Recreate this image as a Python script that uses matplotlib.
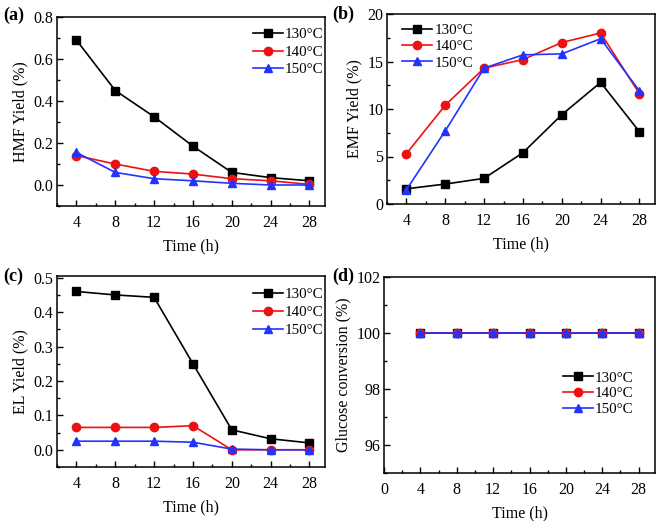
import matplotlib
matplotlib.use("Agg")
import matplotlib.pyplot as plt
from matplotlib.ticker import MultipleLocator

plt.rcParams['font.family'] = ['Liberation Serif', 'DejaVu Serif']

time = [4, 8, 12, 16, 20, 24, 28]
labels = ['130°C', '140°C', '150°C']

hmf_130 = [0.69, 0.45, 0.325, 0.185, 0.06, 0.035, 0.02]
hmf_140 = [0.14, 0.10, 0.065, 0.052, 0.03, 0.02, 0.003]
hmf_150 = [0.155, 0.06, 0.03, 0.02, 0.008, 0.0, 0.0]

emf_130 = [1.6, 2.1, 2.7, 5.4, 9.4, 12.8, 7.6]
emf_140 = [5.3, 10.4, 14.3, 15.2, 17.0, 18.0, 11.6]
emf_150 = [1.5, 7.7, 14.3, 15.7, 15.8, 17.4, 11.9]

el_130 = [0.46, 0.45, 0.443, 0.25, 0.058, 0.032, 0.02]
el_140 = [0.065, 0.065, 0.065, 0.07, 0.0, 0.0, 0.0]
el_150 = [0.025, 0.025, 0.025, 0.022, 0.002, 0.0, 0.0]

glu_130 = [100, 100, 100, 100, 100, 100, 100]
glu_140 = [100, 100, 100, 100, 100, 100, 100]
glu_150 = [100, 100, 100, 100, 100, 100, 100]

colors = ['black', '#ee1111', '#2233ff']
markers = ['s', 'o', '^']
FS = 11.5
LFS = 10.8

W, H = 661, 521
fig = plt.figure(figsize=(W / 100, H / 100), dpi=100)

def ax_px(l, t, r, b):
    return fig.add_axes([l / W, (H - b) / H, (r - l) / W, (b - t) / H])

def style(ax):
    for s in ax.spines.values():
        s.set_linewidth(1.1)
    ax.tick_params(which='both', direction='in', top=False, right=False,
                   labelsize=FS, width=1.0)
    ax.tick_params(which='major', length=4)
    ax.tick_params(which='minor', length=2)
    ax.tick_params(axis='x', pad=6.5)
    ax.tick_params(axis='y', pad=2.5)
    ax.set_xlabel('Time (h)', fontsize=FS, labelpad=5)

def plot_series(ax, series):
    for ys, c, m, lab in zip(series, colors, markers, labels):
        ax.plot(time, ys, color=c, marker=m, markersize=6, linewidth=1.2,
                label=lab)

def add_legend(ax, loc, anchor, spacing):
    ax.legend(loc=loc, bbox_to_anchor=anchor, frameon=False, fontsize=LFS,
              handlelength=2.0, borderpad=0, borderaxespad=0,
              labelspacing=spacing, handletextpad=0.15)

# (a)
axa = ax_px(57, 17, 325, 206)
plot_series(axa, [hmf_130, hmf_140, hmf_150])
axa.set_xlim(2, 29.6)
axa.set_ylim(-0.1, 0.8)
axa.set_xticks(time)
axa.xaxis.set_minor_locator(MultipleLocator(2))
axa.set_yticks([0.0, 0.2, 0.4, 0.6, 0.8])
axa.yaxis.set_minor_locator(MultipleLocator(0.1))
axa.set_ylabel('HMF Yield (%)', fontsize=FS)
style(axa)
add_legend(axa, 'upper right', (0.995, 0.944), 0.28)

# (b)
axb = ax_px(387, 14, 655, 204)
plot_series(axb, [emf_130, emf_140, emf_150])
axb.set_xlim(2, 29.6)
axb.set_ylim(0, 20)
axb.set_xticks(time)
axb.xaxis.set_minor_locator(MultipleLocator(2))
axb.yaxis.set_major_locator(MultipleLocator(5))
axb.yaxis.set_minor_locator(MultipleLocator(2.5))
axb.set_ylabel('EMF Yield (%)', fontsize=FS)
style(axb)
add_legend(axb, 'upper left', (0.056, 0.949), 0.18)

# (c)
axc = ax_px(57, 276, 325, 467)
plot_series(axc, [el_130, el_140, el_150])
axc.set_xlim(2, 29.6)
axc.set_ylim(-0.05, 0.505)
axc.set_xticks(time)
axc.xaxis.set_minor_locator(MultipleLocator(2))
axc.yaxis.set_major_locator(MultipleLocator(0.1))
axc.yaxis.set_minor_locator(MultipleLocator(0.05))
axc.set_ylabel('EL Yield (%)', fontsize=FS)
style(axc)
add_legend(axc, 'upper right', (0.995, 0.94), 0.3)

# (d)
axd = ax_px(384, 277, 655, 473)
plot_series(axd, [glu_130, glu_140, glu_150])
axd.set_xlim(0, 29.8)
axd.set_ylim(95, 102)
axd.set_xticks([0, 4, 8, 12, 16, 20, 24, 28])
axd.xaxis.set_minor_locator(MultipleLocator(2))
axd.set_yticks([96, 98, 100, 102])
axd.yaxis.set_minor_locator(MultipleLocator(1))
axd.set_ylabel('Glucose conversion (%)', fontsize=FS)
style(axd)
add_legend(axd, 'upper left', (0.66, 0.52), 0.15)

# panel labels
for txt, x, y in [('(a)', 3, 15), ('(b)', 332, 14), ('(c)', 3, 276), ('(d)', 332, 276)]:
    fig.text(x / W, 1 - y / H, txt, fontsize=13, fontweight='bold',
             ha='left', va='center')

fig.savefig('out.png', dpi=100)
